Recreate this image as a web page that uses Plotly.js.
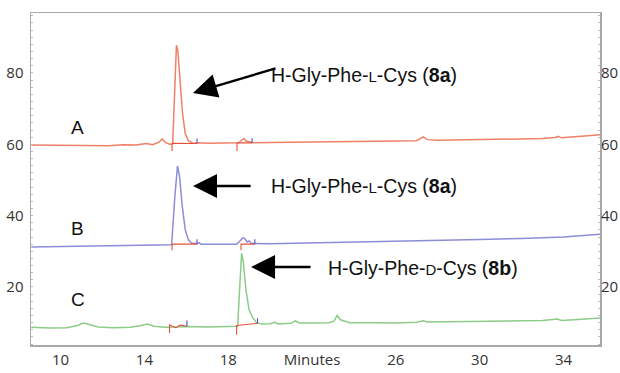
<!DOCTYPE html>
<html>
<head>
<meta charset="utf-8">
<script src="https://cdn.plot.ly/plotly-3.0.1.min.js"></script>
<style>html,body{margin:0;padding:0;background:#fff;}#chart{width:620px;height:373px;}</style>
</head>
<body>
<div id="chart"></div>
<script>
// Trace A (red)
const timeA = [8.6,9.5,10.5,11.5,12.3,13.0,13.6,14.1,14.4,14.7,14.85,15.0,15.2,15.35,15.45,15.53,15.6,15.7,15.82,15.95,16.1,16.3,16.6,17.0,17.5,18.0,18.5,18.65,18.75,18.85,19.0,19.2,20.0,21.0,22.0,23.0,24.0,25.0,26.0,27.0,27.3,27.5,28.0,29.0,30.0,31.0,32.0,33.0,33.6,33.75,33.9,34.5,35.0,35.74];
const valA  = [59.8,59.7,59.6,59.5,59.6,59.9,59.8,60.2,59.9,60.6,61.5,60.5,60.0,60.1,75,87.8,86,78,68.7,63,61,60.3,60.4,60.3,60.4,60.3,60.4,61.2,61.6,60.9,60.7,60.4,60.5,60.5,60.6,60.7,60.8,60.8,60.9,61.0,62.1,61.3,61.1,61.2,61.3,61.4,61.5,61.6,61.9,62.2,61.8,62.0,62.3,62.7];
// Trace B (blue)
const timeB = [8.6,10,11,12,13,14,14.5,15.0,15.3,15.45,15.58,15.68,15.8,15.95,16.1,16.25,16.5,16.6,16.7,17.5,18.4,18.55,18.7,18.8,18.9,19.0,19.1,20,22,24,26,28,30,32,34,35.74];
const valB  = [31.2,31.3,31.4,31.4,31.5,31.6,31.7,31.7,31.8,45,53.9,51,43,36,33.2,32.3,32.1,32.4,32.0,32.0,32.0,32.8,33.8,33.5,32.6,32.9,32.2,32.1,32.3,32.6,32.8,33.0,33.3,33.6,34.0,34.8];
// Trace C (green)
const timeC = [8.6,9.5,10.3,10.8,11.1,11.4,11.8,12.5,13.3,13.8,14.15,14.45,15.0,15.5,16.0,17.0,18.0,18.45,18.55,18.64,18.72,18.85,19.0,19.15,19.35,19.6,20.0,20.2,20.4,21.0,21.2,21.4,22.0,22.8,23.05,23.2,23.35,23.8,25,26,27,27.3,27.5,29,31,33,33.7,33.9,34.5,35.74];
const valC  = [8.7,8.5,8.6,9.2,9.9,9.4,8.8,8.6,8.7,9.1,9.6,9.0,8.7,8.8,8.9,8.8,8.9,9.0,20,29.5,27,19,13.5,11.6,10.0,9.6,9.7,10.1,9.6,9.8,10.5,9.9,9.9,10.0,10.4,12.0,10.8,10.0,10.0,9.9,10.1,10.5,10.2,10.3,10.4,10.6,11.0,10.6,10.8,11.3];
// Integration markers (start = red, end = blue)
const startMarkT = [15.32,15.32,16.51,null,18.42,18.42,19.14,null,15.32,15.32,16.51,null,18.61,18.61,19.27,null,15.2,15.2,15.5,15.7,16.03,null,18.4,18.4,19.4];
const startMarkV = [58.1,60.3,60.2,null,58.1,60.4,60.4,null,30.3,32.0,32.0,null,30.3,32.0,32.0,null,7.1,9.4,8.6,9.3,9.0,null,6.6,9.2,9.8];
const endMarkT = [16.51,16.51,null,19.14,19.14,null,16.51,16.51,null,19.27,19.27,null,16.03,16.03,null,19.4,19.4];
const endMarkV = [60.2,61.6,null,60.4,61.7,null,32.0,33.4,null,32.0,33.4,null,9.0,10.6,null,9.8,11.2];
// Labels
const traceLabels = ['A','B','C'];
const labelT = [10.83,10.83,10.83];
const labelV = [64.6,36.5,16.6];
const peakNames = ["H-Gly-Phe-<span style='font-size:15px'>L</span>-Cys (<b>8a</b>)",
                   "H-Gly-Phe-<span style='font-size:15px'>L</span>-Cys (<b>8a</b>)",
                   "H-Gly-Phe-<span style='font-size:15px'>D</span>-Cys (<b>8b</b>)"];
const peakNameT = [19.95,19.95,22.68];
const peakNameV = [79.4,48.3,25.3];
const arrowHeadT = [16.32,16.32,19.09];
const arrowHeadV = [74.4,48.3,25.6];
const arrowTailT = [20.33,19.14,22.0];
const arrowTailV = [81.4,48.3,25.6];
const xTicks = [10,14,18,22,26,30,34];
const xTickText = ['10','14','18','Minutes','26','30','34'];
const yTicks = [20,40,60,80];

const traces = [
  {x: timeA, y: valA, mode:'lines', line:{color:'#ee8068', width:1.5}, hoverinfo:'skip'},
  {x: timeB, y: valB, mode:'lines', line:{color:'#8c8cd8', width:1.5}, hoverinfo:'skip'},
  {x: timeC, y: valC, mode:'lines', line:{color:'#8ccb88', width:1.5}, hoverinfo:'skip'},
  {x: startMarkT, y: startMarkV, mode:'lines', connectgaps:false, line:{color:'#e6503a', width:1.1}, hoverinfo:'skip'},
  {x: endMarkT, y: endMarkV, mode:'lines', connectgaps:false, line:{color:'#5050d0', width:1.1}, hoverinfo:'skip'},
  {x: [null], y: [null], yaxis:'y2', mode:'lines', hoverinfo:'skip'}
];

const annotations = [];
for (let i = 0; i < traceLabels.length; i++) {
  annotations.push({x: labelT[i], y: labelV[i], xref:'x', yref:'y', text: traceLabels[i], showarrow:false,
    font:{family:'Liberation Sans, Arial, sans-serif', size:19, color:'#111'}});
  annotations.push({x: peakNameT[i], y: peakNameV[i], xref:'x', yref:'y', text: peakNames[i], showarrow:false,
    xanchor:'left', font:{family:'Liberation Sans, Arial, sans-serif', size:19.5, color:'#111'}});
  annotations.push({x: arrowHeadT[i], y: arrowHeadV[i], xref:'x', yref:'y', ax: arrowTailT[i], ay: arrowTailV[i],
    axref:'x', ayref:'y', text:'', showarrow:true, arrowhead:2, arrowsize:2, arrowwidth:2.4, arrowcolor:'#000'});
}

const tickFont = {family:'Open Sans, sans-serif', size:15, color:'#333'};
const yRange = [3.73, 96.8];
const layout = {
  width:620, height:373,
  margin:{l:31, r:20, t:13, b:28, pad:0},
  paper_bgcolor:'#fff', plot_bgcolor:'#fff',
  showlegend:false,
  xaxis:{range:[8.59,35.74], tickvals:xTicks, ticktext:xTickText, showgrid:false, zeroline:false,
    showline:true, linecolor:'#a8a8a8', linewidth:1.5, mirror:true, ticks:'', tickfont:tickFont},
  yaxis:{range:yRange, tickvals:yTicks, showgrid:false, zeroline:false, showline:true, linecolor:'#a8a8a8',
    linewidth:1.5, mirror:true, ticks:'', tickfont:tickFont, ticklabelstandoff:3,
    minor:{ticks:'inside', ticklen:2, dtick:2, tickcolor:'#bbb', showgrid:false}},
  yaxis2:{range:yRange, tickvals:yTicks, overlaying:'y', side:'right', showgrid:false, zeroline:false,
    showline:false, ticks:'', tickfont:tickFont, ticklabelstandoff:0,
    minor:{ticks:'inside', ticklen:2, dtick:2, tickcolor:'#bbb', showgrid:false}},
  annotations: annotations
};
Plotly.newPlot('chart', traces, layout, {staticPlot:true, displayModeBar:false});
</script>
</body>
</html>
